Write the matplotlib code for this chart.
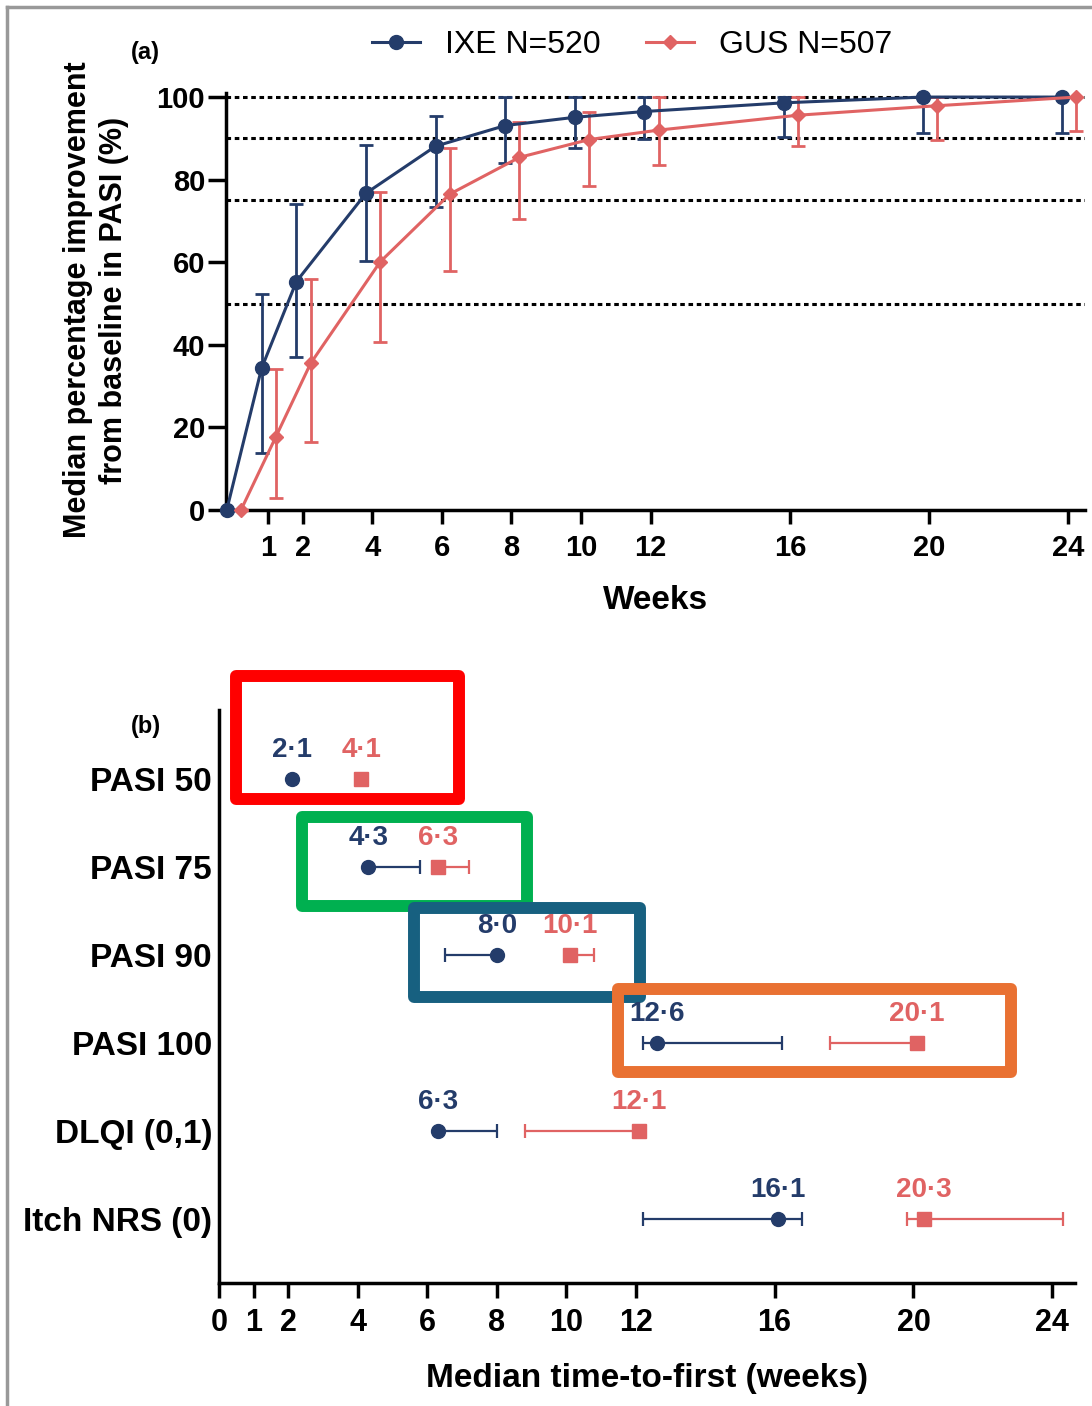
import matplotlib
matplotlib.use("Agg")
import matplotlib.pyplot as plt
from matplotlib.lines import Line2D
from matplotlib.patches import Rectangle
import numpy as np

plt.rcParams["font.family"] = ["Liberation Sans", "DejaVu Sans"]
plt.rcParams["font.weight"] = "bold"

NAVY = "#243c6a"
SALMON = "#e06363"

# (a) median % improvement in PASI over time
weeks = np.array([0, 1, 2, 4, 6, 8, 10, 12, 16, 20, 24])
ixe_pct = np.array([0, 34.3, 55.3, 76.7, 88.1, 93.1, 95.1, 96.5, 98.6, 100, 100])
ixe_pct_lo = np.array([0, 13.8, 37.0, 60.3, 73.4, 84.0, 87.6, 89.8, 90.4, 91.2, 91.2])
ixe_pct_hi = np.array([0, 52.3, 74.0, 88.3, 95.5, 100, 100, 100, 100, 100, 100])
gus_pct = np.array([0, 17.7, 35.5, 60.1, 76.5, 85.4, 89.7, 92.0, 95.6, 97.9, 100])
gus_pct_lo = np.array([0, 2.9, 16.5, 40.6, 57.9, 70.4, 78.5, 83.5, 88.2, 89.6, 91.8])
gus_pct_hi = np.array([0, 34.1, 55.9, 76.9, 87.6, 94.0, 96.3, 100, 100, 100, 100])
thresholds = [50, 75, 90, 100]
week_ticks = [1, 2, 4, 6, 8, 10, 12, 16, 20, 24]

# (b) median time-to-first response (weeks)
endpoints = ["PASI 50", "PASI 75", "PASI 90", "PASI 100", "DLQI (0,1)", "Itch NRS (0)"]
ixe_time = np.array([2.1, 4.3, 8.0, 12.6, 6.3, 16.1])
ixe_time_lo = np.array([2.1, 4.3, 6.5, 12.2, 6.3, 12.2])
ixe_time_hi = np.array([2.1, 5.8, 8.0, 16.2, 8.0, 16.8])
gus_time = np.array([4.1, 6.3, 10.1, 20.1, 12.1, 20.3])
gus_time_lo = np.array([4.1, 6.3, 10.1, 17.6, 8.8, 19.8])
gus_time_hi = np.array([4.1, 7.2, 10.8, 20.1, 12.1, 24.3])
time_ticks = [0, 1, 2, 4, 6, 8, 10, 12, 16, 20, 24]

fig = plt.figure(figsize=(10.92, 14.06), dpi=100)

# ---- panel (a)
ax1 = fig.add_axes([0.207, 0.6373, 0.7866, 0.2966])
for y in thresholds:
    ax1.axhline(y, color="black", lw=2.2, ls=(0, (1.5, 1.2)), zorder=1)

series = [
    (weeks - 0.18, ixe_pct, ixe_pct_lo, ixe_pct_hi, NAVY, "o", 10),
    (weeks + 0.23, gus_pct, gus_pct_lo, gus_pct_hi, SALMON, "D", 7),
]
for x, y, lo, hi, col, mk, ms in series:
    eb = ax1.errorbar(x, y, yerr=[y - lo, hi - y], color=col, marker=mk, ms=ms,
                      lw=2.2, elinewidth=2.0, capsize=5, capthick=2.0, zorder=3)
    for art in eb.get_children():
        art.set_clip_on(False)

ax1.set_xlim(-0.2, 24.48)
ax1.set_ylim(0, 101)
ax1.set_xticks(week_ticks)
ax1.set_yticks([0, 20, 40, 60, 80, 100])
ax1.tick_params(axis="y", length=13, width=2.5, pad=2, labelsize=21)
ax1.tick_params(axis="x", length=10, width=2.5, pad=7, labelsize=21)
for s in ["top", "right"]:
    ax1.spines[s].set_visible(False)
for s in ["left", "bottom"]:
    ax1.spines[s].set_linewidth(2.5)
ax1.set_xlabel("Weeks", fontsize=24, fontweight="bold", labelpad=17)
fig.text(96 / 1092, 1 - 300 / 1406,
         "Median percentage improvement\nfrom baseline in PASI (%)",
         rotation=90, ha="center", va="center", multialignment="center",
         fontsize=22, fontweight="bold", linespacing=1.25)
fig.text(145 / 1092, 1 - 53 / 1406, "(a)", ha="center", va="center",
         fontsize=17, fontweight="bold")

handles = [
    Line2D([], [], color=NAVY, marker="o", ms=10, lw=2.2),
    Line2D([], [], color=SALMON, marker="D", ms=7, lw=2.2),
]
fig.legend(handles, ["IXE N=520", "GUS N=507"], loc="center",
           bbox_to_anchor=(0.579, 0.968), ncol=2, frameon=False,
           prop={"size": 23, "weight": "normal"}, handlelength=1.5,
           columnspacing=1.4, handletextpad=0.8)

# ---- panel (b)
ax2 = fig.add_axes([0.2005, 0.0875, 0.7839, 0.4075])
ypos = np.arange(len(endpoints))
groups = [
    (ixe_time, ixe_time_lo, ixe_time_hi, NAVY, "o", 10),
    (gus_time, gus_time_lo, gus_time_hi, SALMON, "s", 10.5),
]
for x, lo, hi, col, mk, ms in groups:
    ax2.errorbar(x, ypos, xerr=[x - lo, hi - x], fmt="none", ecolor=col,
                 elinewidth=1.6, capsize=5.3, capthick=1.6, zorder=2)
    ax2.plot(x, ypos, mk, color=col, ms=ms, zorder=3)
    for xi, yi in zip(x, ypos):
        ax2.annotate(f"{xi:.1f}".replace(".", "\u00b7"), (xi, yi),
                     xytext=(0, 21), textcoords="offset points",
                     ha="center", va="center", color=col,
                     fontsize=20, fontweight="bold")

# highlight boxes
boxes = [
    ((0.50, -1.17), 6.40, 1.40, "#ff0000"),
    ((2.38, 0.44), 6.48, 1.01, "#00b050"),
    ((5.61, 1.47), 6.51, 1.01, "#176080"),
    ((11.48, 2.39), 11.33, 0.94, "#e97132"),
]
for (bx, by), bw, bh, col in boxes:
    ax2.add_patch(Rectangle((bx, by), bw, bh, fill=False, edgecolor=col,
                            lw=8.6, joinstyle="round", clip_on=False, zorder=1))

ax2.set_xlim(0, 24.65)
ax2.set_ylim(5.73, -0.78)
ax2.set_xticks(time_ticks)
ax2.set_yticks(ypos)
ax2.set_yticklabels(endpoints)
ax2.tick_params(axis="y", length=0, pad=5, labelsize=24)
ax2.tick_params(axis="x", length=11, width=2.5, pad=7, labelsize=22)
for s in ["top", "right"]:
    ax2.spines[s].set_visible(False)
for s in ["left", "bottom"]:
    ax2.spines[s].set_linewidth(2.5)
ax2.set_xlabel("Median time-to-first (weeks)", fontsize=24, fontweight="bold",
               labelpad=18)
fig.text(146 / 1092, 1 - 727 / 1406, "(b)", ha="center", va="center",
         fontsize=17, fontweight="bold")

# grey frame lines along top and left edge
fig.add_artist(Line2D([7 / 1092, 1], [1 - 7 / 1406, 1 - 7 / 1406],
                      color="#999999", lw=2.5, transform=fig.transFigure))
fig.add_artist(Line2D([7 / 1092, 7 / 1092], [0, 1 - 7 / 1406],
                      color="#999999", lw=2.5, transform=fig.transFigure))

fig.savefig("out.png", dpi=100)
